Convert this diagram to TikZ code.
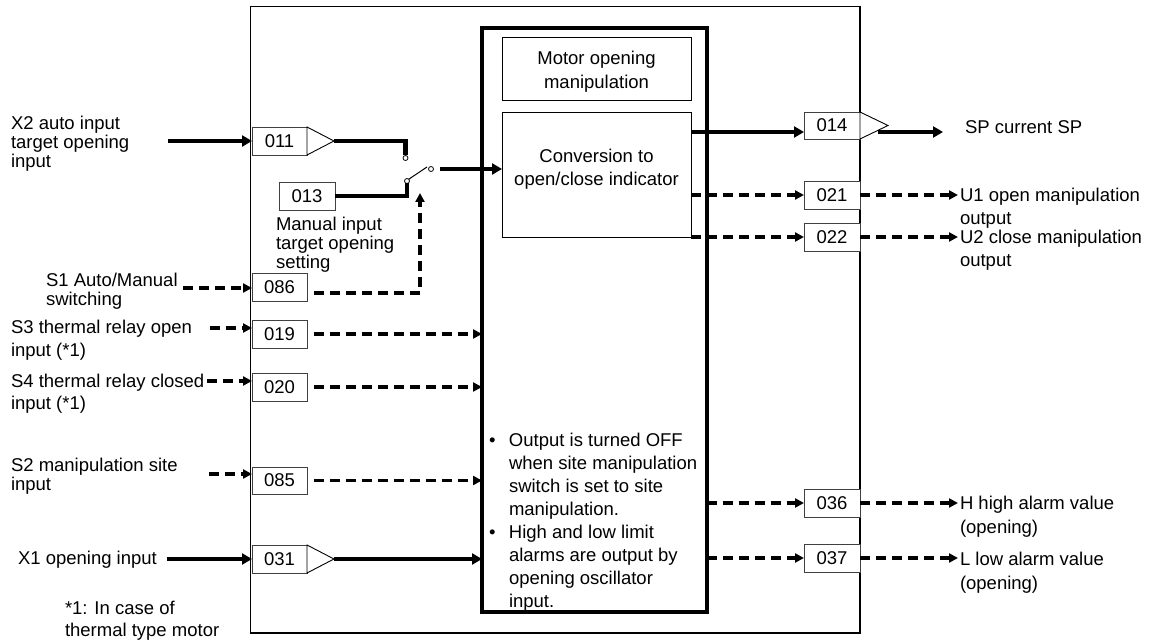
\documentclass[tikz,border=0pt]{standalone}
\usepackage{fontspec}
\setmainfont{Liberation Sans}
\usetikzlibrary{arrows.meta}
\newcommand\mlines[2]{\fontsize{18.5}{#1}\selectfont\begin{tabular}[t]{@{}l@{}}#2\end{tabular}}
\begin{document}
\begin{tikzpicture}[x=1pt,y=-1pt,
  every node/.style={inner sep=0pt,outer sep=0pt,font=\fontsize{18.5}{23}\selectfont},
  lbl/.style={anchor=base west},
  numbox/.style={draw=black!75,line width=0.9pt,fill=white,minimum width=55pt,minimum height=28pt},
  blk/.style={draw=black,line width=0.9pt},
  thk/.style={line width=4.5pt,-{Triangle[length=10pt,width=11pt]}},
  thkline/.style={line width=4.5pt},
  dsh/.style={line width=3.2pt,dash pattern=on 10pt off 6pt,-{Triangle[length=9pt,width=9pt]}},
  dshline/.style={line width=3.2pt,dash pattern=on 10pt off 6pt},
  tri/.style={draw=black,line width=0.9pt,fill=white,line join=miter},
  contact/.style={circle,draw=black,line width=0.8pt,fill=white,minimum size=5pt}
]
\path[use as bounding box,fill=white] (0,0) rectangle (1149,644);

% frames
\node[draw,line width=1.5pt,minimum width=609.5pt,minimum height=626.5pt] (outer) at (555.25,319.75) {};
\node[draw,line width=4pt,minimum width=225pt,minimum height=584pt] (inner) at (594.5,320) {};
\node[blk,minimum width=189pt,minimum height=63pt] (motor) at (596.5,68.5) {};
\node[align=center,font=\fontsize{18.5}{24}\selectfont] (motortxt) at (596.5,71.8) {Motor opening\\manipulation};
\node[blk,minimum width=189pt,minimum height=125pt] (conv) at (596.5,174.5) {};
\node[align=center] (convtxt) at (596.5,169.3) {Conversion to\\open/close indicator};

% number boxes left
\node[numbox] (n011) at (279.5,141) {011};
\node[numbox,minimum width=56pt] (n013) at (307,196) {013};
\node[numbox] (n086) at (279.5,287) {086};
\node[numbox] (n019) at (279.5,334) {019};
\node[numbox] (n020) at (279.5,387) {020};
\node[numbox,minimum height=27pt] (n085) at (279.5,480.5) {085};
\node[numbox] (n031) at (279.5,559) {031};
% number boxes right
\node[numbox,minimum width=56pt,minimum height=27pt] (n014) at (832,125.5) {014};
\node[numbox,minimum width=56pt] (n021) at (832,195) {021};
\node[numbox,minimum width=56pt] (n022) at (832,237) {022};
\node[numbox,minimum width=56pt] (n036) at (832,503) {036};
\node[numbox,minimum width=56pt] (n037) at (832,558) {037};

% amplifier triangles
\coordinate (t011) at (334,141);
\coordinate (t031) at (334,559);
\coordinate (t014) at (888,125.5);
\draw[tri] (n011.north east) -- (t011) -- (n011.south east) -- cycle;
\draw[tri] (n031.north east) -- (t031) -- (n031.south east) -- cycle;
\draw[tri] (n014.north east) -- (t014) -- (n014.south east) -- cycle;

% switch
\node[contact] (c1) at (405.5,158) {};
\node[contact] (c2) at (407,181) {};
\node[contact] (c3) at (431,169) {};
\coordinate (lv) at (427,167);
\coordinate (sw) at (440,169);
\coordinate (swc) at (420,193);
\draw[thkline] (t011) -- (t011 -| c1) -- (c1.north);
\draw[thkline] (n013.east) -- (n013.east -| c2) -- (c2.south);
\draw[line width=1pt] (c2.north east) -- (lv);
\draw[thk] (sw) -- (sw -| conv.west);
\draw[dsh] ([xshift=7pt,yshift=-6pt]n086.east) -- ([yshift=-6pt]n086.east -| swc) -- (swc);

% left inputs
\coordinate (x2s) at (168,141);
\coordinate (s1s) at (183,288);
\coordinate (s3s) at (210,328);
\coordinate (s4s) at (207,381);
\coordinate (s2s) at (209,474);
\coordinate (x1s) at (167,559);
\draw[thk] (x2s) -- (n011.west);
\draw[dsh] (s1s) -- (s1s -| n086.west);
\draw[dsh] (s3s) -- (s3s -| n019.west);
\draw[dsh] (s4s) -- (s4s -| n020.west);
\draw[dsh] (s2s) -- (s2s -| n085.west);
\draw[thk] (x1s) -- (n031.west);

% into motor block
\draw[dsh] ([xshift=7pt]n019.east) -- (n019.east -| inner.west);
\draw[dsh] ([xshift=7pt]n020.east) -- (n020.east -| inner.west);
\draw[dsh] ([xshift=7pt]n085.east) -- (n085.east -| inner.west);
\draw[thk] (t031) -- (t031 -| inner.west);

% out of motor block
\draw[thk] ([yshift=-6.5pt]n014.west -| conv.east) -- ([yshift=-6.5pt]n014.west);
\draw[dsh] (n021.west -| conv.east) -- (n021.west);
\draw[dsh] (n022.west -| conv.east) -- (n022.west);
\draw[dsh] (n036.west -| inner.east) -- (n036.west);
\draw[dsh] (n037.west -| inner.east) -- (n037.west);

% outputs
\coordinate (sps) at (878,132);
\coordinate (spe) at (943,132);
\coordinate (u1e) at (958,195);
\coordinate (u2e) at (958,237);
\coordinate (he) at (958,503);
\coordinate (le) at (958,558);
\draw[thk] (sps) -- (spe);
\draw[dsh] (n021.east) -- (u1e);
\draw[dsh] (n022.east) -- (u2e);
\draw[dsh] (n036.east) -- (he);
\draw[dsh] (n037.east) -- (le);

% labels
\node[lbl] (lx2) at (11,129.5) {\mlines{19}{X2 auto input\\target opening\\input}};
\node[lbl] (ls1) at (46,286.5) {\mlines{18}{S1 Auto/Manual\\switching}};
\node[lbl] (ls3) at (11,333.5) {\mlines{23}{S3 thermal relay open\\input (*1)}};
\node[lbl] (ls4) at (11,387.5) {\mlines{22}{S4 thermal relay closed\\input (*1)}};
\node[lbl] (ls2) at (11,471.5) {\mlines{18}{S2 manipulation site\\input}};
\node[lbl] (lx1) at (18,564.5) {\mlines{18}{X1 opening input}};
\node[lbl] (lnote) at (65,614.5) {\mlines{22}{*1: In case of\\thermal type motor}};
\node[lbl] (lman) at (276,230.5) {\mlines{19}{Manual input\\target opening\\setting}};
\node[lbl] (lsp) at (965,133.5) {\mlines{23}{SP current SP}};
\node[lbl] (lu1) at (960,201.5) {\mlines{23}{U1 open manipulation\\output}};
\node[lbl] (lu2) at (960,243.5) {\mlines{23}{U2 close manipulation\\output}};
\node[lbl] (lh) at (960,509.5) {\mlines{24}{H high alarm value\\(opening)}};
\node[lbl] (ll) at (960,565.5) {\mlines{24}{L low alarm value\\(opening)}};
\node[lbl] (notes) at (489,446.5) {\fontsize{18.5}{23}\selectfont\begin{tabular}[t]{@{}l@{}l@{}}
\makebox[20pt][l]{\textbullet} & Output is turned OFF\\
 & when site manipulation\\
 & switch is set to site\\
 & manipulation.\\
\makebox[20pt][l]{\textbullet} & High and low limit\\
 & alarms are output by\\
 & opening oscillator\\
 & input.
\end{tabular}};
\end{tikzpicture}
\end{document}
